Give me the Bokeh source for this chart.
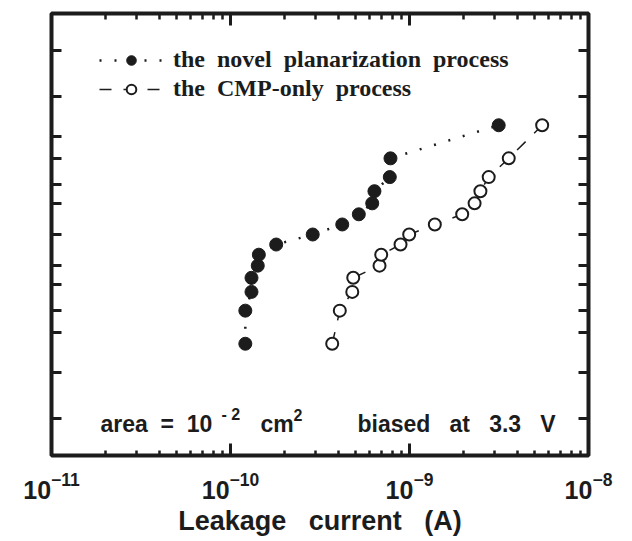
from statistics import NormalDist
from bokeh.plotting import figure
from bokeh.models import (Range1d, LinearAxis, LogAxis, FixedTicker, LogTicker,
                          Label, Legend, LegendItem, LogTickFormatter)
from bokeh.embed import file_html
from bokeh.resources import INLINE

# ---- data ----
novel_current = [1.21e-10, 1.21e-10, 1.31e-10, 1.31e-10, 1.42e-10, 1.44e-10, 1.80e-10,
                 2.88e-10, 4.21e-10, 5.21e-10, 6.19e-10, 6.37e-10, 7.76e-10, 7.83e-10, 3.15e-9]
novel_cum_pct = [3.3, 10.0, 16.7, 23.3, 30.0, 36.7, 43.3, 50.0, 56.7, 63.3, 70.0, 76.7, 83.3, 90.0, 96.7]

cmp_current = [3.70e-10, 4.08e-10, 4.79e-10, 4.85e-10, 6.80e-10, 6.95e-10, 8.91e-10,
               9.96e-10, 1.385e-9, 1.97e-9, 2.31e-9, 2.49e-9, 2.77e-9, 3.585e-9, 5.51e-9]
cmp_cum_pct = [3.3, 10.0, 16.7, 23.3, 30.0, 36.7, 43.3, 50.0, 56.7, 63.3, 70.0, 76.7, 83.3, 90.0, 96.7]

prob_ticks_pct = [0.1, 1, 5, 10, 20, 30, 50, 70, 80, 90, 95, 99, 99.9]
prob_range_pct = [0.01, 99.99]
x_range_vals = [1e-11, 1e-8]

NB2 = "\u00a0\u00a0"
NB3 = "\u00a0\u00a0\u00a0"
legend_labels = ["the" + NB2 + "novel" + NB2 + "planarization" + NB2 + "process",
                 "the" + NB2 + "CMP-only" + NB2 + "process"]
x_title = "Leakage" + NB3 + "current" + NB3 + "(A)"
area_text = ["area" + NB2 + "=" + NB2 + "10", "-\u00a02", "cm", "2"]
bias_text = "biased" + NB3 + "at" + NB3 + "3.3" + NB3 + "V"

nd = NormalDist()
def z(pct):
    return nd.inv_cdf(pct / 100.0)

novel_z = [z(v) for v in novel_cum_pct]
cmp_z = [z(v) for v in cmp_cum_pct]

INK = "#1c1c1c"
SANS = "Liberation Sans"
SERIF = "Liberation Serif"

p = figure(width=630, height=539, x_axis_type="log",
           x_range=Range1d(*x_range_vals),
           y_range=Range1d(z(prob_range_pct[0]), z(prob_range_pct[1])),
           output_backend="svg", toolbar_location=None,
           min_border_left=51, min_border_right=42, min_border_top=13, min_border_bottom=84)
p.grid.visible = False
p.outline_line_color = INK
p.outline_line_width = 4
p.background_fill_color = "white"
p.border_fill_color = "white"

def style_axis(ax, major_in, minor_in):
    ax.major_tick_in = major_in
    ax.major_tick_out = 0
    ax.minor_tick_in = minor_in
    ax.minor_tick_out = 0
    ax.major_tick_line_width = 3
    ax.minor_tick_line_width = 2.5
    ax.major_tick_line_color = INK
    ax.minor_tick_line_color = INK
    ax.axis_line_color = None
    ax.major_label_text_font_size = "1px"
    ax.major_label_text_alpha = 0
    ax.major_label_standoff = 0

# bottom axis (labelled) / top axis (ticks only)
xb = p.xaxis[0]
style_axis(xb, 12, 5)
xb.ticker = LogTicker(num_minor_ticks=10)
xb.formatter = LogTickFormatter()
xb.major_label_text_font_size = "25px"
xb.major_label_text_alpha = 1
xb.major_label_text_font = SANS
xb.major_label_text_font_style = "bold"
xb.major_label_text_color = INK
xb.major_label_standoff = 16
xb.axis_label = x_title
xb.axis_label_text_font = SANS
xb.axis_label_text_font_style = "bold"
xb.axis_label_text_font_size = "27px"
xb.axis_label_text_color = INK
xb.axis_label_standoff = 4

top = LogAxis(ticker=LogTicker(num_minor_ticks=10))
style_axis(top, 12, 6)
p.add_layout(top, "above")

# left / right probability axes
yt = [z(v) for v in prob_ticks_pct]
p.yaxis[0].ticker = FixedTicker(ticks=yt, minor_ticks=[])
style_axis(p.yaxis[0], 10, 0)
right = LinearAxis(ticker=FixedTicker(ticks=yt, minor_ticks=[]))
style_axis(right, 10, 0)
p.add_layout(right, "right")

# series
novel_line = p.line(novel_current, novel_z, line_dash="2 13", line_width=2.5, line_color=INK)
novel_pts = p.scatter(novel_current, novel_z, size=13, fill_color=INK, line_color=INK)
cmp_line = p.line(cmp_current, cmp_z, line_dash="12 12", line_width=1.5, line_color=INK)
cmp_pts = p.scatter(cmp_current, cmp_z, size=12, fill_color="white", line_color=INK, line_width=2)

legend = Legend(items=[LegendItem(label=legend_labels[0], renderers=[novel_line, novel_pts]),
                       LegendItem(label=legend_labels[1], renderers=[cmp_line, cmp_pts])],
                location="top_left", padding=0, margin=0, spacing=2,
                glyph_width=64, glyph_height=24, label_height=24, label_standoff=10,
                border_line_color=None, background_fill_alpha=0,
                label_text_font=SERIF, label_text_font_style="bold",
                label_text_font_size="24px", label_text_color=INK)
p.add_layout(legend)
legend.location = (48, 353)

# in-plot annotations
ann = dict(x_units="screen", y_units="screen", text_baseline="middle",
           text_font=SANS, text_font_style="bold", text_color=INK)
p.add_layout(Label(x=49, y=32, text=area_text[0], text_font_size="23px", **ann))
p.add_layout(Label(x=170, y=41, text=area_text[1], text_font_size="16px", **ann))
p.add_layout(Label(x=209, y=32, text=area_text[2], text_font_size="23px", **ann))
p.add_layout(Label(x=242, y=41, text=area_text[3], text_font_size="16px", **ann))
p.add_layout(Label(x=306, y=32, text=bias_text, text_font_size="23px", **ann))

open("out.html", "w").write(file_html(p, INLINE))
